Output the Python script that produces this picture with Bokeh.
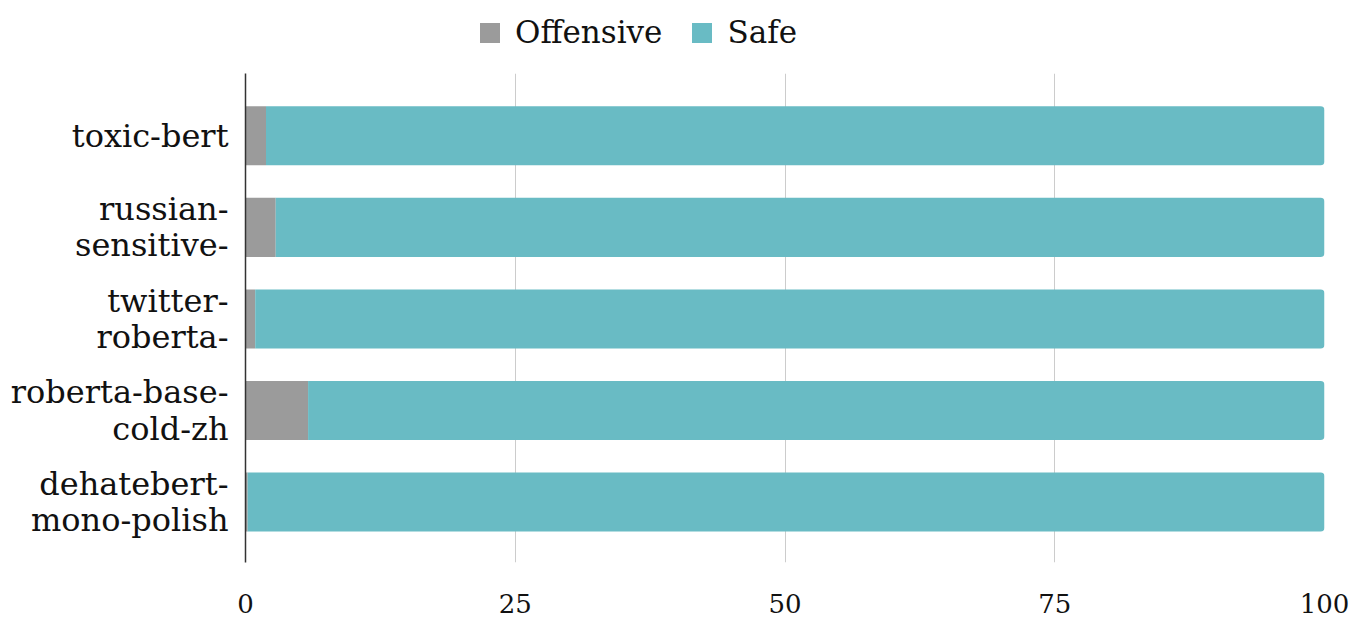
from bokeh.plotting import figure
from bokeh.layouts import column
from bokeh.models import ColumnDataSource, FixedTicker, Range1d, Legend, LegendItem
from bokeh.embed import file_html
from bokeh.resources import INLINE

categories = ["toxic-bert", "russian-\nsensitive-", "twitter-\nroberta-", "roberta-base-\ncold-zh", "dehatebert-\nmono-polish"]
offensive = [1.9, 2.8, 0.9, 5.8, 0.2]
safe = [98.1, 97.2, 99.1, 94.2, 99.8]
x_ticks = [0, 25, 50, 75, 100]
series_names = ["Offensive", "Safe"]

FONT = "DejaVu Serif"
GRAY = "#9b9b9b"
TEAL = "#69bbc4"
W = 1352

pos = list(range(len(categories)))
src = ColumnDataSource(dict(
    y=pos,
    off_left=[0] * len(pos),
    off_right=offensive,
    safe_left=offensive,
    safe_right=[o + s for o, s in zip(offensive, safe)],
))

# ---- legend strip (dummy renderers placed outside the visible range) ----
lg = figure(width=W, height=73, output_backend="svg", toolbar_location=None,
            x_range=Range1d(0, 1), y_range=Range1d(0, 1),
            min_border=0, x_axis_type=None, y_axis_type=None)
lg.outline_line_color = None
lg.xgrid.visible = False
lg.ygrid.visible = False
dummy = ColumnDataSource(dict(y=[-10], l=[0], r=[1]))
d_off = lg.hbar(y="y", left="l", right="r", height=1, source=dummy, fill_color=GRAY, line_color=None,
                border_radius=2)
d_safe = lg.hbar(y="y", left="l", right="r", height=1, source=dummy, fill_color=TEAL, line_color=None,
                 border_radius=2)
legend = Legend(items=[LegendItem(label=series_names[0], renderers=[d_off]),
                       LegendItem(label=series_names[1], renderers=[d_safe])],
                orientation="horizontal", location=(232, 23))
legend.label_text_font = FONT
legend.label_text_font_size = "31px"
legend.label_text_color = "#111111"
legend.glyph_width = 25
legend.glyph_height = 25
legend.label_standoff = 13
legend.spacing = 27
legend.padding = 6
legend.margin = 0
legend.border_line_color = None
legend.background_fill_alpha = 0
lg.add_layout(legend)

# ---- main chart ----
p = figure(width=W, height=557, output_backend="svg", toolbar_location=None,
           x_range=Range1d(0, 100), y_range=Range1d(len(pos) - 1 + 0.66, -0.68),
           min_border_left=245, min_border_right=28, min_border_bottom=68, min_border_top=0)

r_off = p.hbar(y="y", left="off_left", right="off_right", height=0.645, source=src,
               fill_color=GRAY, line_color=None)
r_safe = p.hbar(y="y", left="safe_left", right="safe_right", height=0.645, source=src,
                fill_color=TEAL, line_color=None, border_radius=(0, 4, 4, 0))

p.outline_line_color = None
p.ygrid.grid_line_color = None
p.xgrid.grid_line_color = "#cccccc"
p.xgrid.grid_line_width = 1
p.xaxis.ticker = FixedTicker(ticks=x_ticks)
p.xaxis.axis_line_color = None
p.xaxis.major_tick_line_color = None
p.xaxis.minor_tick_line_color = None
p.xaxis.major_label_text_font = FONT
p.xaxis.major_label_text_font_size = "26px"
p.xaxis.major_label_text_color = "#111111"
p.xaxis.major_label_standoff = 25

p.yaxis.ticker = FixedTicker(ticks=pos)
p.yaxis.major_label_overrides = {i: c for i, c in enumerate(categories)}
p.yaxis.axis_line_color = "#333333"
p.yaxis.axis_line_width = 1.5
p.yaxis.major_tick_line_color = None
p.yaxis.minor_tick_line_color = None
p.yaxis.major_label_text_font = FONT
p.yaxis.major_label_text_font_size = "32px"
p.yaxis.major_label_text_line_height = 0.95
p.yaxis.major_label_text_color = "#111111"
p.yaxis.major_label_standoff = 11

layout = column(lg, p, spacing=0)
open("out.html", "w").write(file_html(layout, INLINE))
